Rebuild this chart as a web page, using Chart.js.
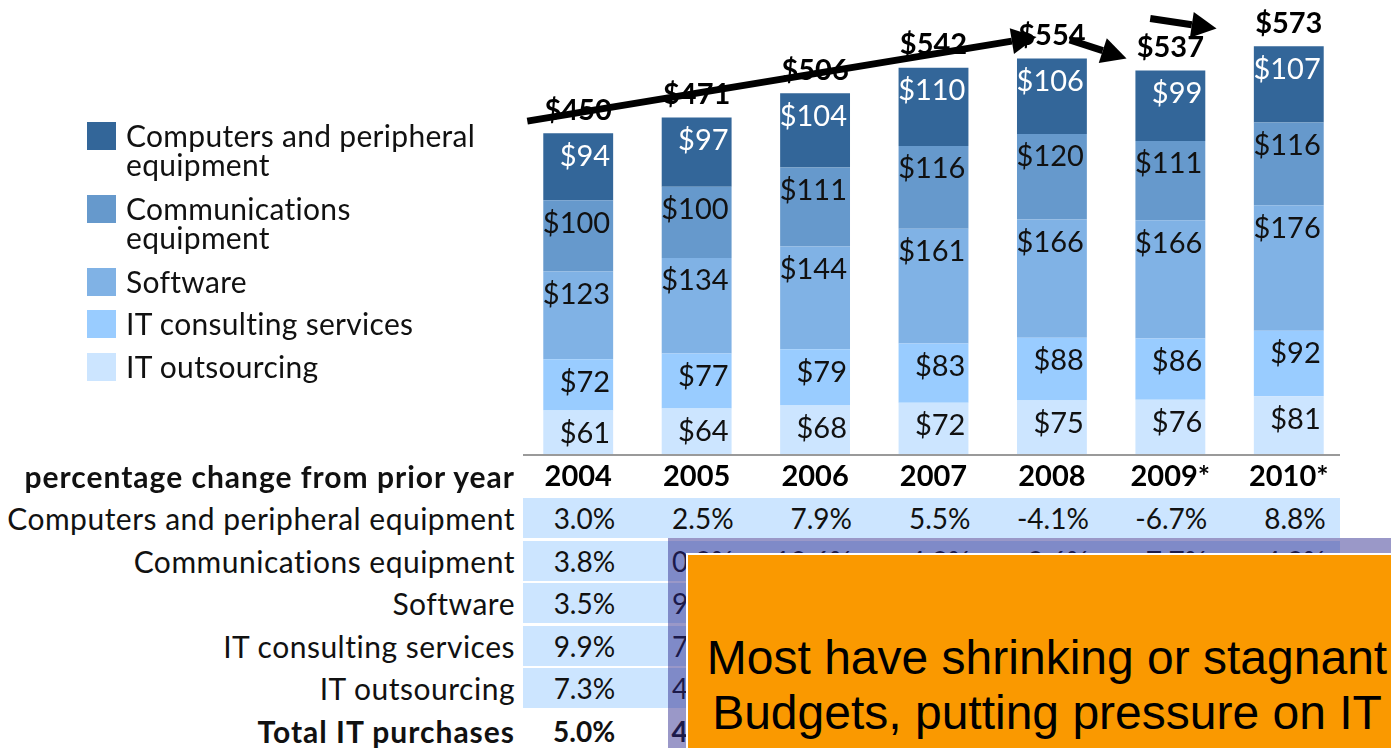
<!DOCTYPE html>
<html><head><meta charset="utf-8">
<script src="https://cdn.jsdelivr.net/npm/chart.js@4"></script>
<style>
html,body{margin:0;padding:0;width:1391px;height:748px;overflow:hidden;background:#fff;font-family:Lato,"Open Sans",sans-serif;color:#111;}
#wrap{position:absolute;left:0;top:0;width:1391px;height:490px;}
.sw{position:absolute;width:29px;height:28px;}
.lt{position:absolute;left:126px;font-size:30px;line-height:29px;letter-spacing:0.3px;white-space:nowrap;}
.rowbg{position:absolute;background:#cce5ff;height:40px;}
.rl{position:absolute;right:876px;font-size:30px;line-height:34px;letter-spacing:0.5px;text-align:right;white-space:nowrap;}
.cell{position:absolute;font-size:28px;line-height:34px;text-align:right;white-space:nowrap;}
#shade{position:absolute;left:668px;top:538px;width:723px;height:210px;background:rgba(40,36,138,0.47);}
#note{position:absolute;left:686px;top:553px;width:720px;height:220px;background:#fa9900;border-top:2px solid #fff;border-left:2px solid #fff;font-family:"Liberation Sans",Arial,sans-serif;font-size:48px;line-height:55px;text-align:center;color:#000;padding-top:75px;box-sizing:border-box;}
</style></head>
<body>
<div id="wrap"><canvas id="c" width="1391" height="490"></canvas></div>
<div id="legend"></div>
<div id="table"></div>
<div id="shade"></div>
<div id="note">Most have shrinking or stagnant<br>Budgets, putting pressure on IT</div>
<script>
// ---- data ----
const years = ['2004','2005','2006','2007','2008','2009*','2010*'];
const seriesNames = ['Computers and peripheral equipment','Communications equipment','Software','IT consulting services','IT outsourcing'];
const legendLines = [['Computers and peripheral','equipment'],['Communications','equipment'],['Software'],['IT consulting services'],['IT outsourcing']];
const computers = [94,97,104,110,106,99,107];
const communications = [100,100,111,116,120,111,116];
const software = [123,134,144,161,166,166,176];
const consulting = [72,77,79,83,88,86,92];
const outsourcing = [61,64,68,72,75,76,81];
const totals = [450,471,506,542,554,537,573];
const colors = ['#336699','#6699cc','#80b2e5','#99ccff','#cce5ff'];
const tableHeader = 'percentage change from prior year';
const tableRowLabels = ['Computers and peripheral equipment','Communications equipment','Software','IT consulting services','IT outsourcing','Total IT purchases'];
const pctComputers = ['3.0%','2.5%','7.9%','5.5%','-4.1%','-6.7%','8.8%'];
const pctCommunications = ['3.8%','0.3%','10.6%','4.3%','3.6%','-7.7%','4.3%'];
const pctSoftware = ['3.5%','9.0%','7.5%','11.8%','3.1%','0.0%','6.0%'];
const pctConsulting = ['9.9%','7.0%','2.6%','5.1%','6.0%','-2.3%','7.0%'];
const pctOutsourcing = ['7.3%','4.9%','6.3%','5.9%','4.2%','1.3%','6.6%'];
const pctTotal = ['5.0%','4.7%','7.4%','7.1%','2.2%','-3.1%','6.7%'];
// arrow annotations in data coordinates: [category index, value]
const arrowFrom = [[-0.43,467],[4.15,581],[4.83,611]];
const arrowTo = [[3.87,585],[4.63,555],[5.39,597]];

const stackOrder = [outsourcing, consulting, software, communications, computers];
const stackNames = [seriesNames[4], seriesNames[3], seriesNames[2], seriesNames[1], seriesNames[0]];
const stackColors = [colors[4], colors[3], colors[2], colors[1], colors[0]];

const labelPlugin = {
  id: 'labels',
  beforeDatasetsDraw(chart) {
    const ctx = chart.ctx, ca = chart.chartArea;
    ctx.save();
    ctx.strokeStyle = '#9a9a9a'; ctx.lineWidth = 2;
    ctx.beginPath(); ctx.moveTo(ca.left + 4, ca.bottom + 1); ctx.lineTo(ca.right - 8, ca.bottom + 1); ctx.stroke();
    ctx.restore();
  },
  afterDatasetsDraw(chart) {
    const ctx = chart.ctx;
    ctx.save();
    ctx.textBaseline = 'middle';
    chart.data.datasets.forEach((ds, di) => {
      const meta = chart.getDatasetMeta(di);
      meta.data.forEach((el, i) => {
        ctx.font = '29px Lato';
        ctx.fillStyle = di === 4 ? '#ffffff' : '#111111';
        ctx.textAlign = 'right';
        ctx.fillText('$' + ds.data[i], el.x + el.width / 2 - 3, el.y + 23);
      });
    });
    const top = chart.getDatasetMeta(4);
    top.data.forEach((el, i) => {
      ctx.font = 'bold 29px Lato';
      ctx.fillStyle = '#000';
      ctx.textAlign = 'center';
      ctx.fillText('$' + totals[i], el.x, el.y - 23);
    });
    // arrows
    const xs = chart.scales.x, ys = chart.scales.y;
    ctx.fillStyle = '#000'; ctx.strokeStyle = '#000'; ctx.lineWidth = 7; ctx.lineCap = 'butt';
    arrowFrom.forEach((f, k) => {
      const t = arrowTo[k];
      const x1 = xs.getPixelForValue(f[0]), y1 = ys.getPixelForValue(f[1]);
      const x2 = xs.getPixelForValue(t[0]), y2 = ys.getPixelForValue(t[1]);
      const a = Math.atan2(y2 - y1, x2 - x1), hl = 25, hw = 13;
      const bx = x2 - hl * Math.cos(a), by = y2 - hl * Math.sin(a);
      ctx.beginPath(); ctx.moveTo(x1, y1); ctx.lineTo(bx, by); ctx.stroke();
      ctx.beginPath(); ctx.moveTo(x2, y2);
      ctx.lineTo(bx + hw * Math.sin(a), by - hw * Math.cos(a));
      ctx.lineTo(bx - hw * Math.sin(a), by + hw * Math.cos(a));
      ctx.closePath(); ctx.fill();
    });
    ctx.restore();
  }
};

const chart = new Chart(document.getElementById('c'), {
  type: 'bar',
  data: {
    labels: years,
    datasets: stackOrder.map((d, k) => ({
      label: stackNames[k], data: d, backgroundColor: stackColors[k],
      borderWidth: 0, categoryPercentage: 1, barPercentage: 0.59
    }))
  },
  options: {
    responsive: false, animation: false, devicePixelRatio: 1,
    layout: { padding: { left: 519, right: 43, top: 0, bottom: 0 } },
    plugins: { legend: { display: false }, tooltip: { enabled: false } },
    scales: {
      x: { stacked: true, grid: { display: false, drawTicks: false }, border: { display: false },
           ticks: { color: '#000', font: { family: 'Lato', size: 29, weight: 'bold' }, padding: 5 },
           afterFit: s => { s.height = 36; } },
      y: { stacked: true, display: false, min: 0, max: 637 }
    }
  },
  plugins: [labelPlugin]
});

// legend (HTML)
const legTops = [122, 195, 268, 310, 353];
const leg = document.getElementById('legend');
legendLines.forEach((lines, k) => {
  const sw = document.createElement('div'); sw.className = 'sw';
  sw.style.left = '87px'; sw.style.top = legTops[k] + 'px'; sw.style.background = colors[k];
  leg.appendChild(sw);
  const t = document.createElement('div'); t.className = 'lt';
  t.style.top = (legTops[k] - 1) + 'px';
  t.innerHTML = lines.join('<br>');
  leg.appendChild(t);
});

// table (HTML) aligned to chart columns
const tbl = document.getElementById('table');
const pctRows = [pctComputers, pctCommunications, pctSoftware, pctConsulting, pctOutsourcing, pctTotal];
const meta0 = chart.getDatasetMeta(0);
const hdr = document.createElement('div'); hdr.className = 'rl';
hdr.style.top = (476 - 17) + 'px'; hdr.style.fontWeight = 'bold'; hdr.style.letterSpacing = '1px';
hdr.textContent = tableHeader;
tbl.appendChild(hdr);
pctRows.forEach((row, r) => {
  const cy = 518 + 42.5 * r;
  if (r < 5) {
    const bg = document.createElement('div'); bg.className = 'rowbg';
    bg.style.left = '523px'; bg.style.width = '817px'; bg.style.top = (cy - 20) + 'px';
    tbl.appendChild(bg);
  }
  const lab = document.createElement('div'); lab.className = 'rl';
  lab.style.top = (cy - 17) + 'px'; lab.textContent = tableRowLabels[r];
  if (r === 5) { lab.style.fontWeight = 'bold'; lab.style.letterSpacing = '1px'; }
  tbl.appendChild(lab);
  row.forEach((v, i) => {
    const el = meta0.data[i];
    const c = document.createElement('div'); c.className = 'cell';
    c.style.right = (1391 - (el.x + el.width / 2 + 2)) + 'px';
    c.style.top = (cy - 17) + 'px'; c.textContent = v;
    if (r === 5) c.style.fontWeight = 'bold';
    tbl.appendChild(c);
  });
});
</script>
</body></html>
